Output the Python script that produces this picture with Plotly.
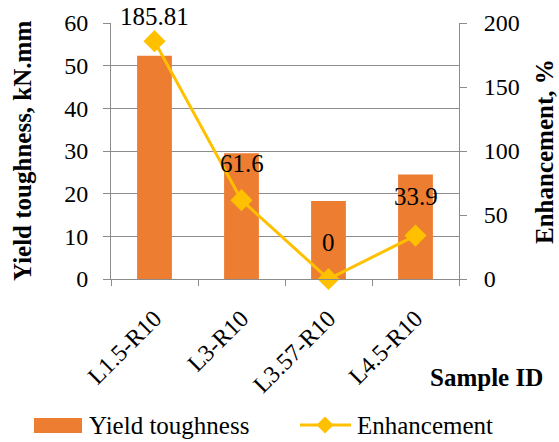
import plotly.graph_objects as go

samples = ["L1.5-R10", "L3-R10", "L3.57-R10", "L4.5-R10"]
yield_toughness = [52.3, 29.5, 18.3, 24.5]
enhancement = [185.81, 61.6, 0, 33.9]
enhancement_labels = ["185.81", "61.6", "0", "33.9"]
# vertical offset (px) of each value label above its marker
label_shift = [25, 37, 37, 39]

serif = "Liberation Serif, Times New Roman, serif"
grid = "#8c8c8c"
bar_color = "#ED7D31"
line_color = "#FFC000"

W, H = 559, 442
ML, MR, MT, MB = 111, 100, 23, 163
PW, PH = W - ML - MR, H - MT - MB


def px_x(px):
    """pixel column -> paper x"""
    return (px - ML) / PW


def px_y(py):
    """pixel row -> paper y"""
    return (H - MB - py) / PH


fig = go.Figure()
fig.add_trace(go.Bar(
    x=samples, y=yield_toughness, name="Yield toughness",
    marker=dict(color=bar_color, line=dict(width=0)),
    width=0.4, yaxis="y",
))
fig.add_trace(go.Scatter(
    x=samples, y=enhancement, name="Enhancement", mode="lines+markers",
    line=dict(color=line_color, width=3),
    marker=dict(symbol="diamond", size=17, color=line_color),
    yaxis="y2", cliponaxis=False,
))

for s, v, t, dy in zip(samples, enhancement, enhancement_labels, label_shift):
    fig.add_annotation(x=s, y=v, yref="y2", text=t, showarrow=False,
                       yshift=dy, font=dict(family=serif, size=25, color="black"))

# axis titles
fig.add_annotation(x=px_x(545), xref="paper", y=px_y(377), yref="paper",
                   text="<b>Sample ID</b>", showarrow=False,
                   xanchor="right", yanchor="middle",
                   font=dict(family=serif, size=25, color="black"))
fig.add_annotation(x=px_x(22), xref="paper", y=0.5, yref="paper",
                   text="<b>Yield toughness, kN.mm</b>", textangle=-90, showarrow=False,
                   xanchor="center", yanchor="middle",
                   font=dict(family=serif, size=25, color="black"))
fig.add_annotation(x=px_x(544), xref="paper", y=px_y(152), yref="paper",
                   text="<b>Enhancement, %</b>", textangle=-90, showarrow=False,
                   xanchor="center", yanchor="middle",
                   font=dict(family=serif, size=25, color="black"))

# legend row below the chart
leg_y = 425
fig.add_shape(type="rect", xref="paper", yref="paper",
              x0=px_x(34), x1=px_x(82), y0=px_y(433), y1=px_y(418),
              fillcolor=bar_color, line=dict(width=0))
fig.add_annotation(x=px_x(87), xref="paper", y=px_y(leg_y), yref="paper",
                   text="Yield toughness", showarrow=False, xanchor="left", yanchor="middle",
                   font=dict(family=serif, size=25, color="black"))
fig.add_shape(type="line", xref="paper", yref="paper",
              x0=px_x(300), x1=px_x(351), y0=px_y(leg_y), y1=px_y(leg_y),
              line=dict(color=line_color, width=3))
dx, dy_ = 8.5, 8.5
fig.add_shape(type="path", xref="paper", yref="paper",
              path=(f"M {px_x(325 - dx)} {px_y(leg_y)} L {px_x(325)} {px_y(leg_y - dy_)} "
                    f"L {px_x(325 + dx)} {px_y(leg_y)} L {px_x(325)} {px_y(leg_y + dy_)} Z"),
              fillcolor=line_color, line=dict(width=0))
fig.add_annotation(x=px_x(355), xref="paper", y=px_y(leg_y), yref="paper",
                   text="Enhancement", showarrow=False, xanchor="left", yanchor="middle",
                   font=dict(family=serif, size=25, color="black"))

fig.update_layout(
    width=W, height=H,
    margin=dict(l=ML, r=MR, t=MT, b=MB, autoexpand=False),
    paper_bgcolor="white", plot_bgcolor="white",
    font=dict(family=serif, size=24, color="black"),
    bargap=0.6,
    showlegend=False,
    xaxis=dict(
        type="category", tickangle=-45, showgrid=False, automargin=False,
        showline=True, linecolor=grid, linewidth=1,
        ticks="outside", tickson="boundaries", ticklen=6, tickcolor=grid,
        tickfont=dict(family=serif, size=24), ticklabelstandoff=15,
        range=[-0.5, 3.5],
    ),
    yaxis=dict(
        range=[0, 60], dtick=10, showgrid=True, gridcolor=grid, gridwidth=1,
        showline=True, linecolor=grid, ticks="outside", ticklen=7, tickcolor=grid,
        zeroline=False, ticklabelstandoff=10, automargin=False,
        tickfont=dict(family=serif, size=24),
    ),
    yaxis2=dict(
        range=[0, 200], dtick=50, overlaying="y", side="right", showgrid=False,
        showline=True, linecolor=grid, ticks="outside", ticklen=7, tickcolor=grid,
        zeroline=False, ticklabelstandoff=12, automargin=False,
        tickfont=dict(family=serif, size=24),
    ),
)

fig.write_html("out.html")
